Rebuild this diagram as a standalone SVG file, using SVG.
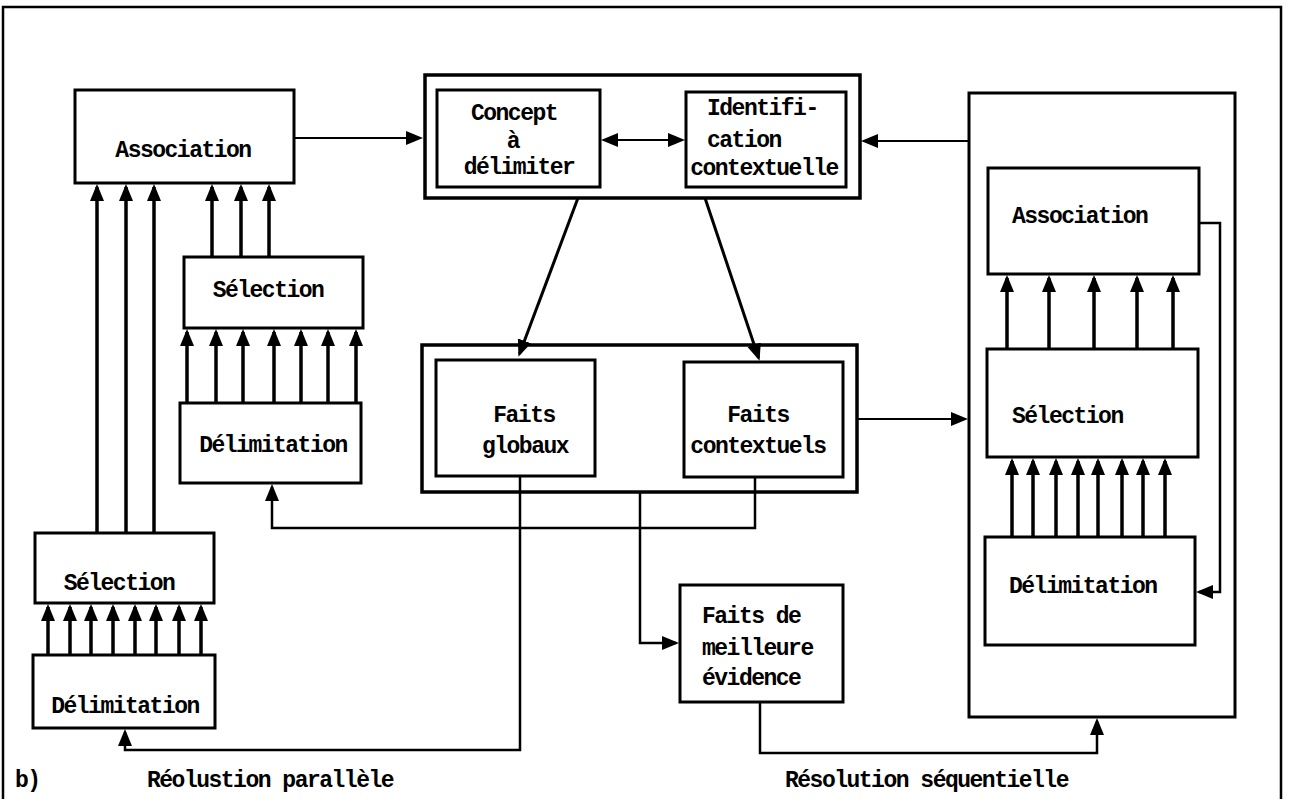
<svg xmlns="http://www.w3.org/2000/svg" width="1300" height="799" viewBox="0 0 1300 799">
<style>
.box{fill:#fff;stroke:#000;stroke-width:3}
.frame{fill:none;stroke:#000;stroke-width:2.5}
.c{fill:none;stroke:#000;stroke-width:2}
.p{fill:none;stroke:#000;stroke-width:3.5}
text{font-family:"Liberation Mono","Courier New",monospace;font-size:23px;letter-spacing:-1.5px;font-weight:bold;fill:#000}
.m{text-anchor:middle}
</style>
<defs>
<marker id="ah" markerUnits="userSpaceOnUse" markerWidth="18" markerHeight="16" refX="14" refY="7" orient="auto">
<path d="M0,0 L17,7 L0,14 z" fill="#000"/>
</marker>
<marker id="ahs" markerUnits="userSpaceOnUse" markerWidth="18" markerHeight="16" refX="14" refY="7" orient="auto-start-reverse">
<path d="M0,0 L17,7 L0,14 z" fill="#000"/>
</marker>
</defs>
<rect width="1300" height="799" fill="#fff"/>
<path class="frame" d="M3,799 V7 H1281 V799"/>

<g id="assoc-left"><rect class="box" x="75" y="90" width="219" height="93"/><text class="m" x="183" y="157">Association</text></g>
<g id="selection-mid"><rect class="box" x="184" y="257" width="179" height="71"/><text class="m" x="268" y="297">Sélection</text></g>
<g id="delim-mid"><rect class="box" x="180" y="403" width="181" height="80"/><text class="m" x="273" y="452">Délimitation</text></g>
<g id="selection-bottom"><rect class="box" x="35" y="533" width="179" height="70"/><text class="m" x="119" y="590">Sélection</text></g>
<g id="delim-bottom"><rect class="box" x="33" y="655" width="182" height="73"/><text class="m" x="125" y="713">Délimitation</text></g>

<g id="concept-group">
<rect class="box" x="425" y="75" width="435" height="123" style="stroke-width:3.5"/>
<g id="concept"><rect class="box" x="437" y="90" width="163" height="97"/>
<text class="m" x="514" y="120">Concept</text><text class="m" x="513" y="148">à</text><text class="m" x="519" y="174">délimiter</text></g>
<g id="identification"><rect class="box" x="686" y="92" width="160" height="95"/>
<text x="707" y="115">Identifi-</text><text x="707" y="147">cation</text><text class="m" x="764" y="175">contextuelle</text></g>
</g>

<g id="faits-group">
<rect class="box" x="422" y="345" width="435" height="147" style="stroke-width:3.5"/>
<g id="faits-globaux"><rect class="box" x="436" y="360" width="159" height="116"/>
<text class="m" x="524" y="422">Faits</text><text class="m" x="525" y="453">globaux</text></g>
<g id="faits-contextuels"><rect class="box" x="684" y="362" width="159" height="115"/>
<text class="m" x="758" y="422">Faits</text><text class="m" x="758" y="453">contextuels</text></g>
</g>

<g id="faits-meilleure"><rect class="box" x="680" y="585" width="163" height="117"/>
<text x="702" y="623">Faits de</text><text x="702" y="655">meilleure</text><text x="702" y="685">évidence</text></g>

<g id="sequential">
<rect class="box" x="969" y="93" width="266" height="624" style="fill:none"/>
<g id="assoc-right"><rect class="box" x="988" y="168" width="211" height="106"/><text x="1012" y="223">Association</text></g>
<g id="selection-right"><rect class="box" x="987" y="349" width="211" height="108"/><text x="1012" y="423">Sélection</text></g>
<g id="delim-right"><rect class="box" x="985" y="537" width="210" height="108"/><text x="1009" y="593">Délimitation</text></g>
</g>

<g id="connectors">
<path class="c" d="M294,138 H420" marker-end="url(#ah)"/>
<path class="c" d="M604,140 H682" marker-start="url(#ahs)" marker-end="url(#ah)"/>
<path class="c" d="M969,141 H864" marker-end="url(#ah)"/>
<path class="c" d="M578,198 L519.5,354" marker-end="url(#ah)" style="stroke-width:3"/>
<path class="c" d="M705,198 L758.6,358" marker-end="url(#ah)" style="stroke-width:3"/>
<path class="c" d="M857,419 H965" marker-end="url(#ah)"/>
<path class="c" d="M520,476 V750 H125 V732" marker-end="url(#ah)" style="stroke-width:2.5"/>
<path class="c" d="M755,477 V528 H272 V487" marker-end="url(#ah)" style="stroke-width:2.5"/>
<path class="c" d="M640,492 V643 H676" marker-end="url(#ah)" style="stroke-width:2.5"/>
<path class="c" d="M760,702 V753 H1097 V721" marker-end="url(#ah)" style="stroke-width:2.5"/>
<path class="c" d="M1199,223 H1220 V592 H1199" marker-end="url(#ah)" style="stroke-width:2.5"/>
<path class="p" d="M97,533 V187" marker-end="url(#ah)"/>
<path class="p" d="M126,533 V187" marker-end="url(#ah)"/>
<path class="p" d="M154,533 V187" marker-end="url(#ah)"/>
<path class="p" d="M212,257 V187" marker-end="url(#ah)"/>
<path class="p" d="M241,257 V187" marker-end="url(#ah)"/>
<path class="p" d="M269,257 V187" marker-end="url(#ah)"/>
<path class="p" d="M187,403 V332" marker-end="url(#ah)"/>
<path class="p" d="M216,403 V332" marker-end="url(#ah)"/>
<path class="p" d="M243,403 V332" marker-end="url(#ah)"/>
<path class="p" d="M274,403 V332" marker-end="url(#ah)"/>
<path class="p" d="M301,403 V332" marker-end="url(#ah)"/>
<path class="p" d="M328,403 V332" marker-end="url(#ah)"/>
<path class="p" d="M356,403 V332" marker-end="url(#ah)"/>
<path class="p" d="M48,655 V607" marker-end="url(#ah)"/>
<path class="p" d="M70,655 V607" marker-end="url(#ah)"/>
<path class="p" d="M91,655 V607" marker-end="url(#ah)"/>
<path class="p" d="M113,655 V607" marker-end="url(#ah)"/>
<path class="p" d="M135,655 V607" marker-end="url(#ah)"/>
<path class="p" d="M156,655 V607" marker-end="url(#ah)"/>
<path class="p" d="M179,655 V607" marker-end="url(#ah)"/>
<path class="p" d="M201,655 V607" marker-end="url(#ah)"/>
<path class="p" d="M1007,349 V278" marker-end="url(#ah)"/>
<path class="p" d="M1049,349 V278" marker-end="url(#ah)"/>
<path class="p" d="M1094,349 V278" marker-end="url(#ah)"/>
<path class="p" d="M1137,349 V278" marker-end="url(#ah)"/>
<path class="p" d="M1173,349 V278" marker-end="url(#ah)"/>
<path class="p" d="M1012,537 V461" marker-end="url(#ah)"/>
<path class="p" d="M1033,537 V461" marker-end="url(#ah)"/>
<path class="p" d="M1056,537 V461" marker-end="url(#ah)"/>
<path class="p" d="M1078,537 V461" marker-end="url(#ah)"/>
<path class="p" d="M1098,537 V461" marker-end="url(#ah)"/>
<path class="p" d="M1122,537 V461" marker-end="url(#ah)"/>
<path class="p" d="M1143,537 V461" marker-end="url(#ah)"/>
<path class="p" d="M1165,537 V461" marker-end="url(#ah)"/>
</g>

<g id="labels">
<text x="15" y="787">b)</text>
<text x="147" y="787">Réolustion parallèle</text>
<text x="785" y="787">Résolution séquentielle</text>
</g>
</svg>
